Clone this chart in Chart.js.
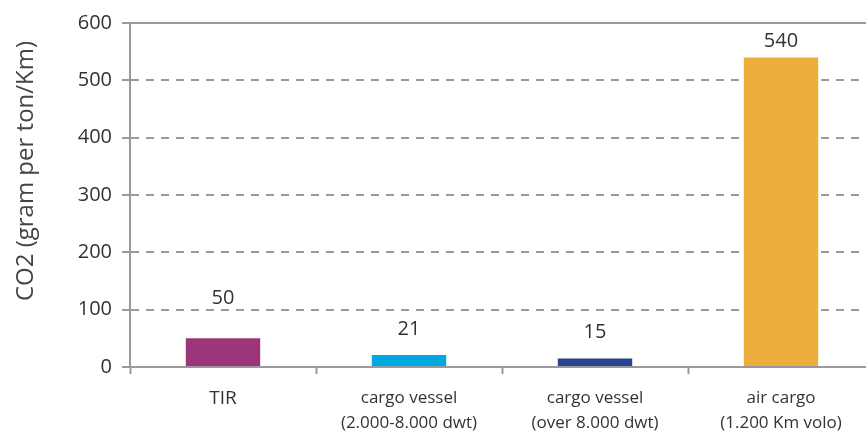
<!DOCTYPE html>
<html lang="en">
<head>
    <meta charset="UTF-8">
    <title>CO2 emissions by transport</title>
    <script src="https://cdn.jsdelivr.net/npm/chart.js"></script>
    <style>
        html, body { margin: 0; padding: 0; background: #fff; overflow: hidden; }
        #wrap { width: 880px; height: 436px; }
    </style>
</head>
<body>
    <div id="wrap">
        <canvas id="co2Chart" width="880" height="436"></canvas>
    </div>

    <script>
        // data
        var categories = [
            ['TIR'],
            ['cargo vessel', '(2.000-8.000 dwt)'],
            ['cargo vessel', '(over 8.000 dwt)'],
            ['air cargo', '(1.200 Km volo)']
        ];
        var co2Values = [50, 21, 15, 540];
        var yTicks = [0, 100, 200, 300, 400, 500, 600];
        var yTitle = 'CO2 (gram per ton/Km)';

        // styling
        var barColors = ['#9c3579', '#00a8e1', '#2a4391', '#ecaf3b'];
        var labelGaps = [40, 26, 26, 16]; // distance of value label above bar top
        var gridColor = '#9a9a9a';
        var textColor = '#333333';
        var fontFamily = '"Open Sans", sans-serif';

        var valueLabels = {
            id: 'valueLabels',
            afterDatasetsDraw: function(chart) {
                var ctx = chart.ctx;
                var meta = chart.getDatasetMeta(0);
                ctx.save();
                ctx.font = '20px ' + fontFamily;
                ctx.fillStyle = textColor;
                ctx.textAlign = 'center';
                ctx.textBaseline = 'middle';
                meta.data.forEach(function(bar, i) {
                    ctx.fillText(String(co2Values[i]), bar.x, bar.y - labelGaps[i]);
                });
                ctx.restore();
            }
        };

        var sideTitle = {
            id: 'sideTitle',
            afterDraw: function(chart) {
                var ctx = chart.ctx;
                ctx.save();
                ctx.translate(26, 171);
                ctx.rotate(-Math.PI / 2);
                ctx.font = '24px ' + fontFamily;
                ctx.fillStyle = '#444444';
                ctx.textAlign = 'center';
                ctx.textBaseline = 'middle';
                ctx.fillText(yTitle, 0, 0);
                ctx.restore();
            }
        };

        var ctx = document.getElementById('co2Chart').getContext('2d');
        var co2Chart = new Chart(ctx, {
            type: 'bar',
            data: {
                labels: categories,
                datasets: [{
                    data: co2Values,
                    backgroundColor: barColors,
                    borderWidth: 0,
                    barPercentage: 0.4,
                    categoryPercentage: 1
                }]
            },
            options: {
                responsive: false,
                animation: false,
                devicePixelRatio: 1,
                layout: { padding: { top: 23, right: 6, left: 0, bottom: 0 } },
                plugins: {
                    legend: { display: false },
                    tooltip: { enabled: false }
                },
                scales: {
                    x: {
                        offset: true,
                        afterFit: function(scale) { scale.height = 69; },
                        grid: {
                            offset: true,
                            drawOnChartArea: false,
                            drawTicks: true,
                            tickLength: 7,
                            tickColor: gridColor,
                            tickWidth: 2
                        },
                        border: { display: true, color: gridColor, width: 2 },
                        ticks: {
                            color: textColor,
                            padding: 12,
                            maxRotation: 0,
                            autoSkip: false,
                            font: function(c) {
                                return { family: fontFamily, size: c.index === 0 ? 19 : 17, lineHeight: '25px' };
                            }
                        }
                    },
                    y: {
                        min: yTicks[0],
                        max: yTicks[yTicks.length - 1],
                        afterFit: function(scale) { scale.width = 130; },
                        afterBuildTicks: function(scale) {
                            scale.ticks = yTicks.map(function(v) { return { value: v }; });
                        },
                        grid: {
                            color: gridColor,
                            lineWidth: 2,
                            drawTicks: true,
                            tickLength: 8,
                            tickColor: gridColor,
                            tickWidth: 2
                        },
                        border: {
                            display: true,
                            color: gridColor,
                            width: 2,
                            dash: function(c) {
                                var v = c.tick ? c.tick.value : 0;
                                return (v === 0 || v === 600) ? [] : [8, 7];
                            }
                        },
                        ticks: {
                            color: textColor,
                            padding: 10,
                            font: { family: fontFamily, size: 20 }
                        }
                    }
                }
            },
            plugins: [valueLabels, sideTitle]
        });
    </script>
</body>
</html>
